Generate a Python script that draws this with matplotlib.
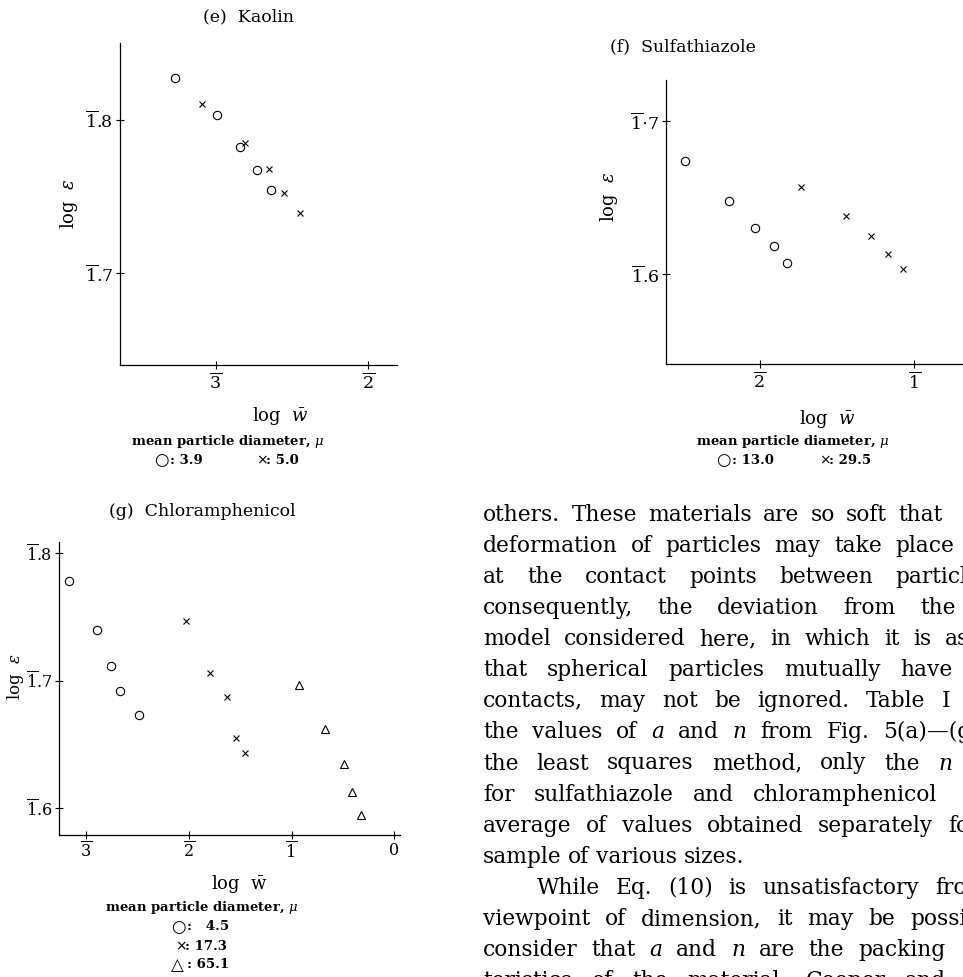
import matplotlib
matplotlib.use('Agg')
import matplotlib.pyplot as plt

plt.rcParams['font.family'] = ['DejaVu Serif', 'DejaVu Sans']
plt.rcParams['mathtext.fontset'] = 'dejavuserif'

kaolin_o_x = [-3.27, -2.99, -2.84, -2.73, -2.64]
kaolin_o_y = [-0.173, -0.197, -0.218, -0.233, -0.246]
kaolin_x_x = [-3.09, -2.81, -2.65, -2.55, -2.45]
kaolin_x_y = [-0.190, -0.215, -0.232, -0.248, -0.261]

sulfa_o_x = [-2.48, -2.20, -2.03, -1.91, -1.82]
sulfa_o_y = [-0.326, -0.352, -0.370, -0.382, -0.393]
sulfa_x_x = [-1.73, -1.44, -1.28, -1.17, -1.07]
sulfa_x_y = [-0.343, -0.362, -0.375, -0.387, -0.397]

chlor_o_x = [-3.17, -2.89, -2.76, -2.67, -2.48]
chlor_o_y = [-0.222, -0.260, -0.288, -0.308, -0.327]
chlor_x_x = [-2.03, -1.79, -1.63, -1.54, -1.45]
chlor_x_y = [-0.253, -0.294, -0.313, -0.345, -0.357]
chlor_t_x = [-0.93, -0.67, -0.49, -0.41, -0.32]
chlor_t_y = [-0.303, -0.338, -0.365, -0.387, -0.405]

body_lines = [
    "others.  These materials are so soft that",
    "deformation of particles may take place",
    "at the contact points between particles",
    "consequently, the deviation from the",
    "model considered here, in which it is assumed",
    "that spherical particles mutually have",
    "contacts, may not be ignored.  Table I",
    "the values of _a and _n from Fig. 5(a)\u2014(g)",
    "the least squares method, only the _n",
    "for sulfathiazole and chloramphenicol",
    "average of values obtained separately for",
    "sample of various sizes.",
    "While Eq. (10) is unsatisfactory from",
    "viewpoint of dimension, it may be possible",
    "consider that _a and _n are the packing",
    "teristics of the material.  Cooper and",
]
# pixel x where the last word of each justified line begins (None = ragged)
body_last_x = [898, 895, 895, 920, 945, 900, 942, 883, 938, 753, 948, None,
               935, 910, 858, 905]

W, H = 963, 977
fig = plt.figure(figsize=(W / 100, H / 100), dpi=100)


def px(x, y):
    return x / W, 1 - y / H


def make_axes(left, top, right, bottom, labelsize=12.5):
    ax = fig.add_axes([left / W, 1 - bottom / H, (right - left) / W, (bottom - top) / H])
    ax.spines['top'].set_visible(False)
    ax.spines['right'].set_visible(False)
    for s in ('left', 'bottom'):
        ax.spines[s].set_linewidth(0.9)
    ax.tick_params(direction='inout', length=6, width=0.8, labelsize=labelsize, pad=2)
    return ax


def pts(ax, x, y, m, ms):
    ax.plot(x, y, ls='none', marker=m, ms=ms, mfc='none', mec='black', mew=0.8)


def legend_item(x, y, sym, label, size=12, off=16):
    fig.text(*px(x, y), sym, fontsize=size, family='DejaVu Sans', ha='left', va='center')
    fig.text(*px(x + off, y), label, fontsize=9.5, fontweight='bold', ha='left', va='center')


bar = lambda d: r'$\overline{%s}$' % d
lbl = dict(fontsize=13)
leg = dict(fontsize=9.5, fontweight='bold', ha='center', va='center')

# (e) Kaolin
ax = make_axes(120, 43, 397, 365)
pts(ax, kaolin_o_x, kaolin_o_y, 'o', 6)
pts(ax, kaolin_x_x, kaolin_x_y, 'x', 4.5)
ax.set_xlim(-3.63, -1.81)
ax.set_ylim(-0.360, -0.150)
ax.set_xticks([-3, -2], [bar(3), bar(2)])
ax.set_yticks([-0.2, -0.3], [bar(1) + '.8', bar(1) + '.7'])
ax.set_ylabel(r'log  $\varepsilon$', **lbl)
ax.yaxis.set_label_coords(-0.145, 0.5)
ax.set_xlabel(r'log  $\bar{w}$', **lbl)
ax.xaxis.set_label_coords(0.578, -0.125)
fig.text(*px(248, 17), '(e)  Kaolin', fontsize=12.5, ha='center', va='center')
fig.text(*px(228, 442), 'mean particle diameter, $\\mu$', **leg)
legend_item(154, 460, '\u25cb', ': 3.9')
legend_item(256, 460, '\u00d7', ': 5.0', size=10, off=10)

# (f) Sulfathiazole
ax = make_axes(666, 80, 963, 364)
pts(ax, sulfa_o_x, sulfa_o_y, 'o', 6)
pts(ax, sulfa_x_x, sulfa_x_y, 'x', 4.5)
ax.set_xlim(-2.606, -0.684)
ax.set_ylim(-0.459, -0.273)
ax.set_xticks([-2, -1], [bar(2), bar(1)])
ax.set_yticks([-0.3, -0.4], [bar(1) + r'$\cdot$7', bar(1) + '.6'])
ax.set_ylabel(r'log  $\varepsilon$', **lbl)
ax.yaxis.set_label_coords(-0.155, 0.588)
ax.set_xlabel(r'log  $\bar{w}$', **lbl)
ax.xaxis.set_label_coords(0.542, -0.155)
fig.text(*px(683, 47), '(f)  Sulfathiazole', fontsize=12.5, ha='center', va='center')
fig.text(*px(793, 442), 'mean particle diameter, $\\mu$', **leg)
legend_item(716, 460, '\u25cb', ': 13.0')
legend_item(819, 460, '\u00d7', ': 29.5', size=10, off=10)

# (g) Chloramphenicol
ax = make_axes(59, 542, 400, 835, labelsize=11.5)
pts(ax, chlor_o_x, chlor_o_y, 'o', 6)
pts(ax, chlor_x_x, chlor_x_y, 'x', 4.5)
pts(ax, chlor_t_x, chlor_t_y, '^', 5.5)
ax.set_xlim(-3.263, 0.055)
ax.set_ylim(-0.421, -0.191)
ax.set_xticks([-3, -2, -1, 0], [bar(3), bar(2), bar(1), '0'])
ax.set_yticks([-0.2, -0.3, -0.4], [bar(1) + '.8', bar(1) + '.7', bar(1) + '.6'])
ax.set_ylabel(r'log  $\varepsilon$', fontsize=12)
ax.yaxis.set_label_coords(-0.097, 0.54)
ax.set_xlabel(r'log  $\bar{\mathrm{w}}$', **lbl)
ax.xaxis.set_label_coords(0.53, -0.13)
fig.text(*px(202, 512), '(g)  Chloramphenicol', fontsize=12.5, ha='center', va='center')
fig.text(*px(202, 907), 'mean particle diameter, $\\mu$', **leg)
legend_item(171, 927, '\u25cb', ':   4.5')
legend_item(175, 946, '\u00d7', ': 17.3', size=10, off=10)
legend_item(171, 965, '\u25b3', ': 65.1')

# body text, justified word by word
renderer = fig.canvas.get_renderer()
body_size = 15.7
base_y, line_gap, left_x = 520.7, 31.1, 483
for i, line in enumerate(body_lines):
    y = base_y + i * line_gap
    x0 = 536.7 if line.startswith('While') else left_x
    texts = []
    for w in line.split():
        style = 'normal'
        if w.startswith('_'):
            w, style = w[1:], 'italic'
        texts.append(fig.text(0, 0, w, fontsize=body_size, fontstyle=style,
                              ha='left', va='baseline'))
    widths = [t.get_window_extent(renderer).width for t in texts]
    if body_last_x[i] is None or len(texts) < 2:
        gap = 0.3 * body_size * 100 / 72
    else:
        gap = (body_last_x[i] - x0 - sum(widths[:-1])) / (len(texts) - 1)
    x = x0
    for t, w in zip(texts, widths):
        t.set_position(px(x, y))
        x += w + gap

fig.savefig('out.png', dpi=100)
